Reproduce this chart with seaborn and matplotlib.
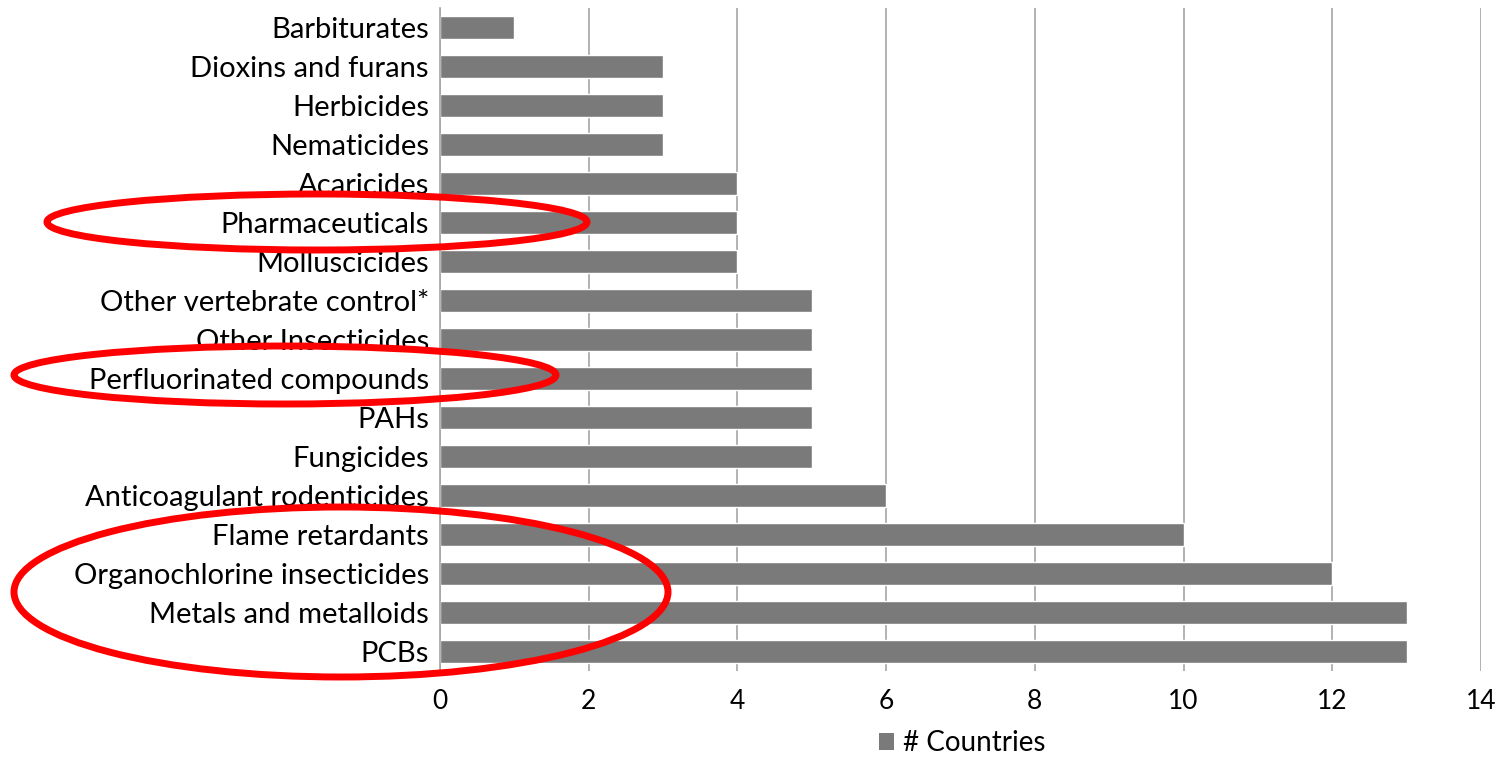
import matplotlib
matplotlib.use("Agg")
import matplotlib.pyplot as plt
from matplotlib.patches import Ellipse, Patch
import seaborn as sns
import pandas as pd

categories = [
    "Barbiturates", "Dioxins and furans", "Herbicides", "Nematicides",
    "Acaricides", "Pharmaceuticals", "Molluscicides",
    "Other vertebrate control*", "Other Insecticides",
    "Perfluorinated compounds", "PAHs", "Fungicides",
    "Anticoagulant rodenticides", "Flame retardants",
    "Organochlorine insecticides", "Metals and metalloids", "PCBs",
]
countries = [1, 3, 3, 3, 4, 4, 4, 5, 5, 5, 5, 5, 6, 10, 12, 13, 13]
x_ticks = [0, 2, 4, 6, 8, 10, 12, 14]
series_name = "# Countries"

df = pd.DataFrame({"category": categories, "value": countries})

sns.set_theme(style="white")
plt.rcParams["font.family"] = ["Lato", "DejaVu Sans"]

fig = plt.figure(figsize=(14.96, 7.57), dpi=100)
ax = fig.add_axes([440 / 1496, 1 - 671 / 757, (1481 - 440) / 1496, (671 - 8) / 757])

bar_color = "#7a7a7a"
sns.barplot(data=df, x="value", y="category", orient="h", color=bar_color,
            width=0.58, saturation=1, ax=ax, order=categories)

ax.set_xlim(0, 14)
ax.set_ylim(len(categories) - 0.5, -0.5)
ax.set_xticks(x_ticks)
ax.set_xticklabels([str(t) for t in x_ticks])
ax.xaxis.grid(True, color="#a6a6a6", linewidth=1.2)
ax.set_axisbelow(True)
ax.set_xlabel("")
ax.set_ylabel("")
for side in ["top", "right", "bottom"]:
    ax.spines[side].set_visible(False)
ax.spines["left"].set_color("#a6a6a6")
ax.spines["left"].set_linewidth(1.2)
ax.tick_params(axis="y", labelsize=21, pad=8, length=0, labelcolor="#000000")
ax.tick_params(axis="x", labelsize=19, pad=13, length=0, labelcolor="#000000")

# Legend below the axis
handle = Patch(facecolor=bar_color, edgecolor="none", label=series_name)
fig.legend(handles=[handle], loc="center", bbox_to_anchor=(962 / 1496, 1 - 743 / 757),
           frameon=False, fontsize=20, handlelength=0.55, handleheight=0.55,
           handletextpad=0.3, labelcolor="#000000")

# Red highlight ellipses around selected categories
def fig_ellipse(cx, cy, w, h):
    e = Ellipse((cx / 1496, 1 - cy / 757), w / 1496, h / 757,
                transform=fig.transFigure, fill=False, edgecolor="#ff0000",
                linewidth=5, clip_on=False, zorder=10)
    fig.add_artist(e)

fig_ellipse(317, 222, 540, 56)
fig_ellipse(285, 375, 542, 58)
fig_ellipse(341, 592, 654, 170)

fig.savefig("out.png", dpi=100, facecolor="white")
